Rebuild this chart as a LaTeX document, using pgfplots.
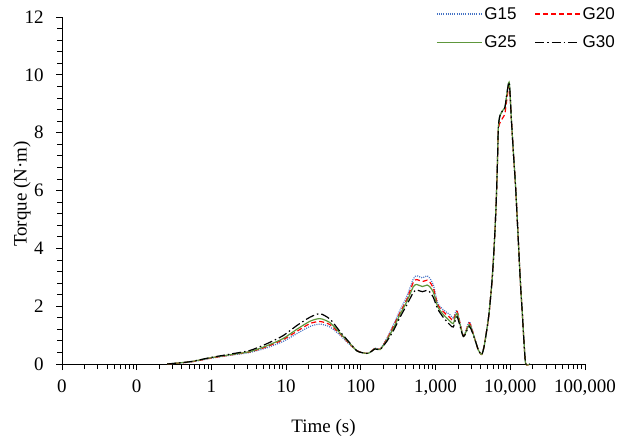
\documentclass[border=0pt]{standalone}
\usepackage{pgfplots}
\pgfplotsset{compat=1.18}
\usepackage{pgfplotstable}
\usepackage{fontspec}
\setmainfont{Liberation Serif}
\newfontfamily\arial{Liberation Sans}
\definecolor{c15}{RGB}{68,114,196}
\definecolor{c20}{RGB}{255,0,0}
\definecolor{c25}{RGB}{94,151,60}
\definecolor{c30}{RGB}{0,0,0}

\pgfplotstableread{
t g15 g20 g25 g30
0.255 0 0 0 0
0.52 0.07 0.07 0.08 0.08
1.0 0.2 0.21 0.22 0.23
1.77 0.3 0.31 0.32 0.34
3.29 0.4 0.42 0.43 0.47
5.5 0.56 0.6 0.63 0.7
9.1 0.78 0.84 0.88 0.98
13.9 1.05 1.13 1.2 1.33
20.9 1.3 1.4 1.48 1.62
28.4 1.38 1.47 1.57 1.74
38.7 1.28 1.36 1.43 1.55
52.7 1.0 1.04 1.07 1.12
71.7 0.66 0.68 0.7 0.72
88 0.47 0.47 0.46 0.46
101 0.4 0.4 0.4 0.4
126 0.37 0.37 0.37 0.37
155 0.55 0.54 0.53 0.52
181 0.52 0.51 0.5 0.5
222 0.88 0.85 0.82 0.78
272 1.35 1.3 1.23 1.15
335 1.87 1.78 1.72 1.62
411 2.33 2.22 2.15 2.04
505 2.95 2.83 2.68 2.48
560 3.05 2.92 2.75 2.56
665 2.98 2.85 2.68 2.5
770 3.05 2.9 2.73 2.55
844 2.95 2.82 2.66 2.48
935 2.73 2.62 2.48 2.3
1070 2.1 2.05 1.98 1.9
1280 1.87 1.8 1.7 1.6
1563 1.7 1.6 1.48 1.35
1730 1.58 1.5 1.4 1.28
1940 1.85 1.82 1.75 1.64
2356 0.97 0.97 0.96 0.95
2833 1.46 1.42 1.36 1.3
3380 0.83 0.83 0.83 0.83
3741 0.48 0.48 0.48 0.48
4150 0.33 0.33 0.33 0.33
4457 0.6 0.6 0.6 0.6
4846 1.18 1.18 1.18 1.18
5200 1.76 1.76 1.76 1.76
5705 2.9 2.9 2.9 2.9
6124 4.2 4.2 4.2 4.2
6457 5.5 5.5 5.5 5.5
6720 6.9 6.9 6.9 6.9
6930 8.2 8.1 8.2 8.2
7300 8.6 8.35 8.6 8.6
8090 8.8 8.55 8.8 8.8
8518 8.9 8.7 8.9 8.9
9640 9.75 9.62 9.75 9.75
10350 8.44 8.44 8.44 8.44
11010 7.3 7.3 7.3 7.3
11850 6.0 6.0 6.0 6.0
13610 2.9 2.9 2.9 2.9
14480 1.76 1.76 1.76 1.76
15310 0.7 0.7 0.7 0.7
16100 0 0 0 0
18400 0 0 0 0
}\data

\begin{document}
\begin{tikzpicture}
\begin{axis}[
  scale only axis, width=523pt, height=347pt,
  xmode=log, log basis x=10,
  xmin=0.01, xmax=100000, ymin=0, ymax=12,
  axis lines=left, axis line style={-, line width=0.8pt},
  xtick={0.01,0.1,1,10,100,1000,10000,100000},
  xticklabels={0,0,1,10,100,{1,000},{10,000},{100,000}},
  minor xtick={0.02,0.03,0.04,0.05,0.06,0.07,0.08,0.09,
    0.2,0.3,0.4,0.5,0.6,0.7,0.8,0.9,
    2,3,4,5,6,7,8,9,
    20,30,40,50,60,70,80,90,
    200,300,400,500,600,700,800,900,
    2000,3000,4000,5000,6000,7000,8000,9000,
    20000,30000,40000,50000,60000,70000,80000,90000},
  ytick={0,2,4,6,8,10,12}, minor y tick num=4,
  tick align=outside, major tick length=6pt, minor tick length=5pt,
  every tick/.style={black, line width=0.8pt},
  tick label style={font=\fontsize{19}{22}\selectfont},
  xticklabel style={yshift=-6pt},
  yticklabel style={xshift=-9pt},
  /pgf/number format/assume math mode=true,
  xlabel={Time (s)}, ylabel={Torque (N·m)},
  label style={font=\fontsize{19}{22}\selectfont},
  xlabel style={at={(axis description cs:0.5,-0.184)}, anchor=center},
  ylabel style={at={(axis description cs:-0.0765,0.49)}, anchor=center},
  clip=false,
  legend style={draw=none, fill=none, at={(1.067,1.04)}, anchor=north east,
    font=\arial\fontsize{17}{20}\selectfont, row sep=11pt},
  legend columns=2,
  legend cell align=left,
  legend image code/.code={\draw[#1, line width=1.2pt] (0pt,0pt) -- (45pt,0pt);},
  /tikz/every even column/.append style={column sep=16pt},
]
\addplot[color=c15, line width=1.2pt, smooth, tension=0.4, dash pattern=on 1pt off 1.2pt] table[x=t, y=g15] {\data};
\addlegendentry{G15}
\addplot[color=c20, line width=1.2pt, smooth, tension=0.4, dash pattern=on 5pt off 3pt] table[x=t, y=g20] {\data};
\addlegendentry{G20}
\addplot[color=c25, line width=1.2pt, smooth, tension=0.4, solid] table[x=t, y=g25] {\data};
\addlegendentry{G25}
\addplot[color=c30, line width=1.2pt, smooth, tension=0.4, dash pattern=on 9pt off 3pt on 1.5pt off 3pt] table[x=t, y=g30] {\data};
\addlegendentry{G30}
\end{axis}
\pgfresetboundingbox
\path[use as bounding box] ([xshift=-62pt,yshift=-77pt]current axis.south west) rectangle ([xshift=38pt,yshift=17pt]current axis.north east);
\end{tikzpicture}
\end{document}
